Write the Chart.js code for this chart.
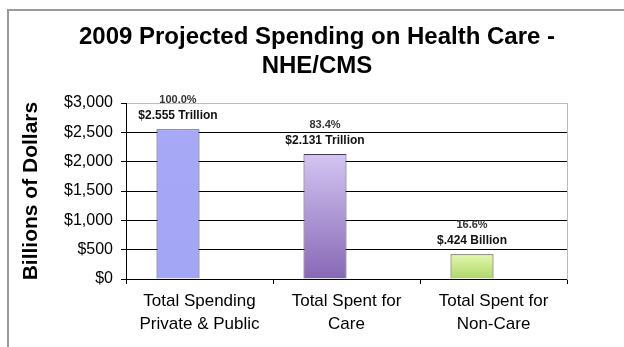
<!DOCTYPE html>
<html>
<head>
<meta charset="utf-8">
<script src="https://cdn.jsdelivr.net/npm/chart.js@4"></script>
<style>
  html, body { margin: 0; padding: 0; background: #fff; }
  #wrap { position: relative; width: 624px; height: 347px; overflow: hidden; }
  #frame { position: absolute; left: 7px; top: 9px; width: 700px; height: 400px;
           border-left: 2px solid #999; border-top: 2px solid #999; }
  canvas { position: absolute; left: 0; top: 0; }
</style>
</head>
<body>
<div id="wrap">
  <div id="frame"></div>
  <canvas id="chart" width="624" height="347"></canvas>
</div>
<script>
// 2009 projected national health expenditure, billions of dollars
const categories = [
  ['Total Spending', 'Private & Public'],
  ['Total Spent for', 'Care'],
  ['Total Spent for', 'Non-Care']
];
const spending = [2555, 2131, 424];
const shareLabels = ['100.0%', '83.4%', '16.6%'];
const amountLabels = ['$2.555 Trillion', '$2.131 Trillion', '$.424 Billion'];
const yTicks = [0, 500, 1000, 1500, 2000, 2500, 3000];

const FONT = "'Liberation Sans', Arial, sans-serif";

// top / bottom colours of each bar's vertical gradient
const barShades = [
  ['#a7a9f7', '#a3a5f5'],
  ['#d3c5f2', '#8868b6'],
  ['#e6f8ac', '#acd66a']
];

function barFill(ctx) {
  const chart = ctx.chart;
  const i = ctx.dataIndex;
  const y = chart.scales.y;
  if (!chart.chartArea || !y || ctx.raw == null) return barShades[i] ? barShades[i][0] : '#ccc';
  const top = y.getPixelForValue(ctx.raw);
  const bottom = y.getPixelForValue(0);
  const g = chart.ctx.createLinearGradient(0, top, 0, bottom);
  g.addColorStop(0, barShades[i][0]);
  g.addColorStop(1, barShades[i][1]);
  return g;
}

// share and amount written above each bar
const barLabels = {
  id: 'barLabels',
  afterDatasetsDraw(chart) {
    const ctx = chart.ctx;
    const meta = chart.getDatasetMeta(0);
    ctx.save();
    ctx.textAlign = 'center';
    ctx.textBaseline = 'middle';
    meta.data.forEach((bar, i) => {
      ctx.fillStyle = '#333';
      ctx.font = 'bold 11px ' + FONT;
      ctx.fillText(shareLabels[i], bar.x, bar.y - 29);
      ctx.fillStyle = '#111';
      ctx.font = 'bold 12px ' + FONT;
      ctx.fillText(amountLabels[i], bar.x, bar.y - 13);
    });
    ctx.restore();
  }
};

new Chart(document.getElementById('chart'), {
  type: 'bar',
  data: {
    labels: categories,
    datasets: [
      {
        data: spending,
        backgroundColor: barFill,
        borderColor: '#3c3c5a',
        borderWidth: 1,
        borderSkipped: 'bottom'
      },
      {
        data: categories.map(() => null)
      }
    ]
  },
  options: {
    responsive: false,
    animation: false,
    devicePixelRatio: 1,
    categoryPercentage: 0.585,
    barPercentage: 1.0,
    layout: { padding: { left: 10, top: 10, right: 0, bottom: 0 } },
    plugins: {
      legend: { display: false },
      tooltip: { enabled: false },
      title: {
        display: true,
        text: ['2009 Projected Spending on Health Care -', 'NHE/CMS'],
        color: '#000',
        font: { family: FONT, size: 24, weight: 'bold', lineHeight: 1.21 },
        padding: { top: 13, bottom: 22 }
      }
    },
    scales: {
      x: {
        grid: { drawOnChartArea: false, drawTicks: true, tickLength: 5, color: '#000', offset: true },
        border: { display: true, color: '#000', width: 1 },
        ticks: { color: '#000', font: { family: FONT, size: 17, lineHeight: 1.35 }, padding: 6, maxRotation: 0 },
        afterFit(scale) { scale.height = 68; }
      },
      y: {
        min: 0,
        max: 3000,
        afterBuildTicks(scale) { scale.ticks = yTicks.map(v => ({ value: v })); },
        grid: {
          color: c => (c.tick && c.tick.value === 3000 ? '#bbbbbb' : '#000'),
          tickLength: 5,
          tickColor: '#000'
        },
        border: { display: true, color: '#000', width: 1 },
        ticks: {
          color: '#000',
          padding: 8,
          font: { family: FONT, size: 16 },
          callback: v => '$' + v.toLocaleString('en-US')
        },
        title: {
          display: true,
          text: 'Billions of Dollars',
          color: '#000',
          font: { family: FONT, size: 21, weight: 'bold' },
          padding: { top: 9, bottom: 0 }
        },
        afterFit(scale) { scale.width = 116; }
      },
      y2: {
        position: 'right',
        min: 0,
        max: 3000,
        grid: { display: false },
        ticks: { display: false },
        border: { display: true, color: '#bbbbbb', width: 1 },
        afterFit(scale) { scale.width = 57; }
      }
    }
  },
  plugins: [barLabels]
});
</script>
</body>
</html>
